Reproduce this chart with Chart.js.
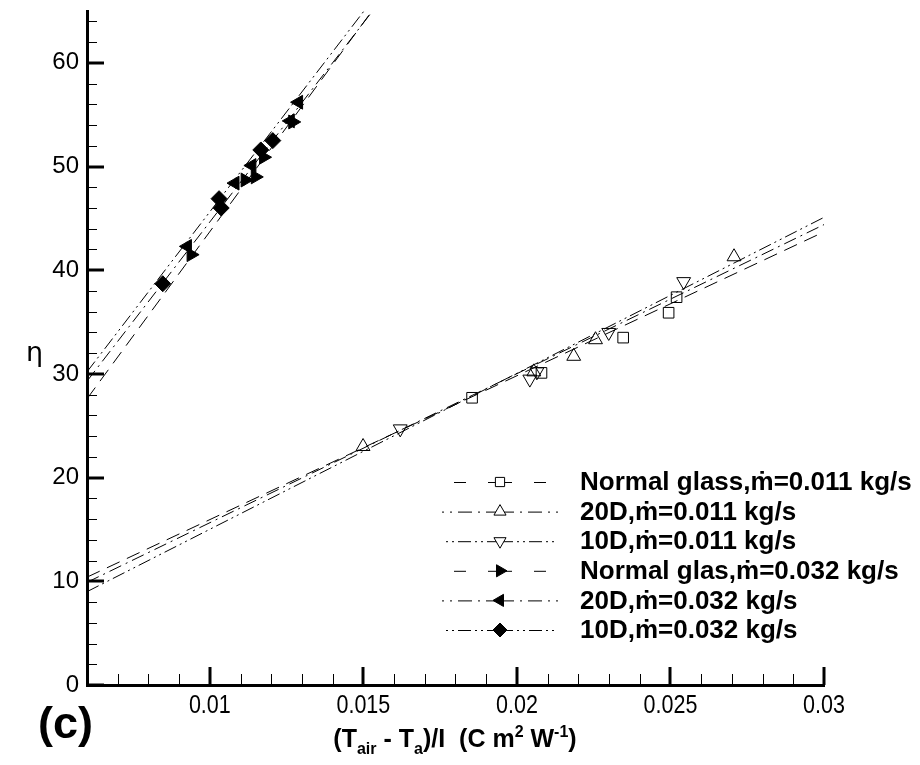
<!DOCTYPE html>
<html>
<head>
<meta charset="utf-8">
<script src="https://cdn.jsdelivr.net/npm/chart.js@4.4.0/dist/chart.umd.min.js"></script>
<style>
  body { margin: 0; background: #fff; }
  #wrap { position: relative; width: 920px; height: 765px; }
  #wrap canvas { position: absolute; left: 0; top: 0; }
  .lbl { position: absolute; font-family: "Liberation Sans", Arial, sans-serif; color: #000; white-space: nowrap; line-height: 1; }
  #xtitle { left: 255px; width: 400px; top: 726px; text-align: center; font-weight: bold; font-size: 25px; }
  #xtitle .sb { font-size: 16px; position: relative; top: 7px; }
  #xtitle .sp { font-size: 16px; position: relative; top: -10px; }
  #panel { left: 38px; top: 700px; font-weight: bold; font-size: 45px; }
  #ytitle { left: 26px; top: 338px; font-size: 27px; font-family: "DejaVu Sans", "Liberation Sans", sans-serif; }
</style>
</head>
<body>
<div id="wrap">
  <canvas id="chart" width="920" height="765"></canvas>
  <div class="lbl" id="ytitle">η</div>
  <div class="lbl" id="panel">(c)</div>
  <div class="lbl" id="xtitle">(T<span class="sb">air</span> - T<span class="sb">a</span>)/I&nbsp;&nbsp;(C m<span class="sp">2</span> W<span class="sp">-1</span>)</div>
</div>
<script>
// axis ticks
const xTicks = [0.01, 0.015, 0.02, 0.025, 0.03];
const xTickLabels = ['0.01', '0.015', '0.02', '0.025', '0.03'];
const yTicks = [0, 10, 20, 30, 40, 50, 60];
const yTickLabels = ['0', '10', '20', '30', '40', '50', '60'];

const seriesNames = [
  'Normal glass,ṁ=0.011 kg/s',
  '20D,ṁ=0.011 kg/s',
  '10D,ṁ=0.011 kg/s',
  'Normal glas,ṁ=0.032 kg/s',
  '20D,ṁ=0.032 kg/s',
  '10D,ṁ=0.032 kg/s'
];

const normal011X = [0.01854, 0.0208, 0.02346, 0.02494, 0.0252];
const normal011Y = [27.7, 30.1, 33.5, 35.9, 37.4];
const d20011X = [0.01499, 0.02055, 0.02185, 0.02256, 0.02707];
const d20011Y = [23.0, 30.2, 31.7, 33.3, 41.3];
const d10011X = [0.0162, 0.02042, 0.02065, 0.02299, 0.02543];
const d10011Y = [24.7, 29.5, 30.2, 34.0, 38.9];

const normal032X = [0.00939, 0.01115, 0.01148, 0.01175, 0.0127];
const normal032Y = [41.5, 48.7, 49.0, 50.9, 54.3];
const d20032X = [0.00927, 0.01082, 0.01137, 0.01262, 0.01289];
const d20032Y = [42.3, 48.4, 50.1, 54.4, 56.2];
const d10032X = [0.008467, 0.0103, 0.01037, 0.01166, 0.01205];
const d10032Y = [38.7, 46.9, 46.0, 51.6, 52.5];

// fitted lines: end points
const fit011X = [0.006, 0.03];
const normal011FitY = [10.4, 43.7];
const d20011FitY = [9.9, 44.4];
const d10011FitY = [9.0, 45.1];
const normal032FitX = [0.006, 0.01528];
const normal032FitY = [27.6, 65];
const d20032FitX = [0.006, 0.0153];
const d20032FitY = [29.3, 65];
const d10032FitX = [0.006, 0.01502];
const d10032FitY = [30.2, 65];

const pts = (xs, ys) => xs.map((x, i) => ({ x: x, y: ys[i] }));

const dashes = [[14, 8], [13, 5, 2, 5], [13, 4, 2, 4, 2, 4]];
const keyDashes = [[12, 22], [14, 6, 2, 6], [13, 4, 2, 4, 2, 4]];
const hollow = 'rgba(0,0,0,0)';

const markers = [
  { pointStyle: 'rect', pointRadius: 7.5, pointRotation: 0, fill: hollow },
  { pointStyle: 'triangle', pointRadius: 8, pointRotation: 0, fill: hollow },
  { pointStyle: 'triangle', pointRadius: 8, pointRotation: 180, fill: hollow },
  { pointStyle: 'triangle', pointRadius: 8, pointRotation: 90, fill: '#000' },
  { pointStyle: 'triangle', pointRadius: 8, pointRotation: 270, fill: '#000' },
  { pointStyle: 'rectRot', pointRadius: 8, pointRotation: 0, fill: '#000' }
];

const pointSets = [
  pts(normal011X, normal011Y), pts(d20011X, d20011Y), pts(d10011X, d10011Y),
  pts(normal032X, normal032Y), pts(d20032X, d20032Y), pts(d10032X, d10032Y)
];
const fitSets = [
  pts(fit011X, normal011FitY), pts(fit011X, d20011FitY), pts(fit011X, d10011FitY),
  pts(normal032FitX, normal032FitY), pts(d20032FitX, d20032FitY), pts(d10032FitX, d10032FitY)
];

const datasets = [];
pointSets.forEach((d, i) => {
  const m = markers[i];
  datasets.push({
    label: seriesNames[i],
    data: d,
    showLine: false,
    pointStyle: m.pointStyle,
    pointRadius: m.pointRadius,
    pointRotation: m.pointRotation,
    pointBackgroundColor: m.fill,
    pointBorderColor: '#000',
    pointBorderWidth: 1
  });
});
fitSets.forEach((d, i) => {
  datasets.push({
    label: seriesNames[i] + ' fit',
    data: d,
    showLine: true,
    pointRadius: 0,
    borderColor: '#000',
    borderWidth: 1,
    borderDash: dashes[i % 3],
    fill: false
  });
});

// inward tick marks like the original plot, plus narrow x labels
const inTicks = {
  id: 'inTicks',
  afterDraw(chart) {
    const { ctx, chartArea: a, scales: { x, y } } = chart;
    ctx.save();
    ctx.strokeStyle = '#000';
    const seg = (x1, y1, x2, y2) => { ctx.beginPath(); ctx.moveTo(x1, y1); ctx.lineTo(x2, y2); ctx.stroke(); };
    ctx.lineWidth = 1;
    for (let i = 7; i < 30; i++) {
      if (i % 5 === 0) continue;
      const px = Math.round(x.getPixelForValue(i / 1000)) + 0.5;
      seg(px, a.bottom, px, a.bottom - 11);
    }
    for (let v = 2; v <= 64; v += 2) {
      if (v % 10 === 0) continue;
      const py = Math.round(y.getPixelForValue(v)) + 0.5;
      seg(a.left, py, a.left + 10, py);
    }
    ctx.lineWidth = 3;
    xTicks.forEach(v => { const px = Math.round(x.getPixelForValue(v)); seg(px, a.bottom, px, a.bottom - 18); });
    yTicks.forEach(v => { const py = Math.round(y.getPixelForValue(v)); seg(a.left, py, a.left + 17, py); });

    ctx.fillStyle = '#000';
    ctx.font = '25px "Liberation Sans", Arial, sans-serif';
    ctx.textAlign = 'center';
    ctx.textBaseline = 'middle';
    xTicks.forEach((v, i) => {
      const px = x.getPixelForValue(v);
      ctx.save();
      ctx.translate(px, a.bottom + 21);
      ctx.scale(0.86, 1);
      ctx.fillText(xTickLabels[i], 0, 0);
      ctx.restore();
    });
    ctx.restore();
  }
};

// legend inside the plot, line + marker + bold label
const keyBox = {
  id: 'keyBox',
  afterDatasetsDraw(chart) {
    const ctx = chart.ctx;
    const cx = 500, half = 58, tx = 580, top = 482, step = 29.6;
    ctx.save();
    seriesNames.forEach((name, i) => {
      const yy = top + i * step;
      ctx.strokeStyle = '#000';
      ctx.lineWidth = 1;
      ctx.setLineDash(keyDashes[i % 3]);
      ctx.beginPath();
      ctx.moveTo(cx, yy + 0.5); ctx.lineTo(cx - half, yy + 0.5);
      ctx.moveTo(cx, yy + 0.5); ctx.lineTo(cx + half, yy + 0.5);
      ctx.stroke();
      ctx.setLineDash([]);
      const m = markers[i];
      ctx.fillStyle = m.fill === hollow ? '#fff' : '#000';
      Chart.helpers.drawPoint(ctx, { pointStyle: m.pointStyle, rotation: m.pointRotation, radius: m.pointRadius - 1, borderWidth: 1 }, cx, yy);
      ctx.fillStyle = '#000';
      ctx.font = 'bold 26px "Liberation Sans", Arial, sans-serif';
      ctx.textBaseline = 'middle';
      ctx.textAlign = 'left';
      ctx.fillText(name, tx, yy + 1);
    });
    ctx.restore();
  }
};

new Chart(document.getElementById('chart'), {
  type: 'scatter',
  data: { datasets: datasets },
  options: {
    responsive: false,
    animation: false,
    devicePixelRatio: 1,
    layout: { padding: { top: 11, right: 96, bottom: 0, left: 0 } },
    plugins: { legend: { display: false }, tooltip: { enabled: false } },
    scales: {
      x: {
        type: 'linear',
        min: 0.006,
        max: 0.03,
        afterBuildTicks: s => { s.ticks = xTicks.map(v => ({ value: v })); },
        afterFit: s => { s.height = 80; s.paddingLeft = 0; s.paddingRight = 0; },
        grid: { display: false, drawTicks: false },
        border: { display: true, color: '#000', width: 3 },
        ticks: { display: false }
      },
      y: {
        type: 'linear',
        min: 0,
        max: 65,
        afterBuildTicks: s => { s.ticks = yTicks.map(v => ({ value: v })); },
        afterFit: s => { s.width = 87; s.paddingTop = 0; s.paddingBottom = 0; },
        grid: { display: false, drawTicks: false },
        border: { display: true, color: '#000', width: 3 },
        ticks: {
          padding: 8,
          color: '#000',
          autoSkip: false,
          font: { family: '"Liberation Sans", Arial, sans-serif', size: 24 },
          callback: v => yTickLabels[yTicks.indexOf(v)]
        }
      }
    }
  },
  plugins: [inTicks, keyBox]
});
</script>
</body>
</html>
